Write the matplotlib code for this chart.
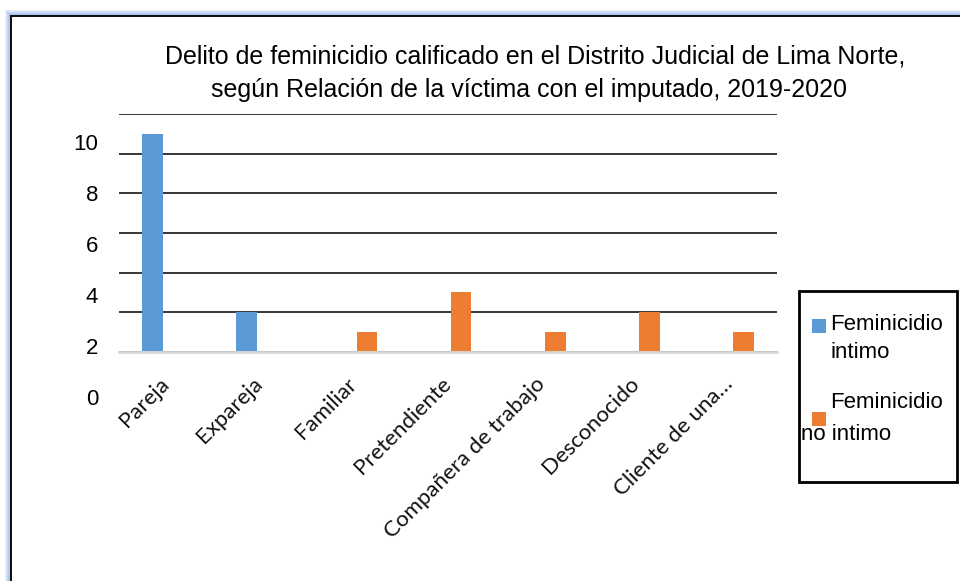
import matplotlib
matplotlib.use("Agg")
import matplotlib.pyplot as plt
from matplotlib.patches import Rectangle
import numpy as np

categories = ["Pareja", "Expareja", "Familiar", "Pretendiente",
              "Compañera de trabajo", "Desconocido", "Cliente de una…"]
intimo = [11, 2, 0, 0, 0, 0, 0]
no_intimo = [0, 0, 1, 3, 1, 2, 1]
series_names = ["Feminicidio\nintimo", "Feminicidio\nno intimo"]
ytick_values = [0, 2, 4, 6, 8, 10]
title_lines = ["Delito de feminicidio calificado en el Distrito Judicial de Lima Norte,",
               "según Relación de la víctima con el imputado, 2019-2020"]

BLUE = "#5b9bd5"
ORANGE = "#ed7d31"
W, H = 960, 581

fig = plt.figure(figsize=(W / 100, H / 100), dpi=100)
fig.patch.set_facecolor("white")

def fx(px):
    return px / W

def fy(py):
    return 1 - py / H

# outer frame: blue glow + dark line (top and left)
for i, a in enumerate([0.2, 0.35, 0.5, 0.65, 0.8]):
    fig.patches.append(Rectangle((fx(5 + i), 0), fx(1), fy(10 + i), transform=fig.transFigure,
                                 facecolor="#8fb4f0", alpha=a, edgecolor="none"))
    fig.patches.append(Rectangle((fx(5 + i), fy(11 + i)), 1, 1 / H, transform=fig.transFigure,
                                 facecolor="#8fb4f0", alpha=a, edgecolor="none"))
fig.patches.append(Rectangle((fx(10), 0), fx(2.4), fy(14.5), transform=fig.transFigure,
                             facecolor="#111111", edgecolor="none"))
fig.patches.append(Rectangle((fx(10), fy(17)), 1, 2.4 / H, transform=fig.transFigure,
                             facecolor="#111111", edgecolor="none"))

# main axes
left, right, top, bottom = 118.5, 777, 114.3, 351.7
ax = fig.add_axes([fx(left), fy(bottom), fx(right - left), (bottom - top) / H])
x = np.arange(len(categories))
bw = 0.22
off = 0.142
ax.bar(x - off, intimo, width=bw, color=BLUE, zorder=3)
ax.bar(x + off, no_intimo, width=bw, color=ORANGE, zorder=3)
ax.set_xlim(-0.5, len(categories) - 0.5)
ax.set_ylim(0, 12)
ax.set_yticks(np.arange(0, 13, 2))
ax.yaxis.grid(True, color="#262626", linewidth=1.3, zorder=0)
ax.set_axisbelow(True)
ax.tick_params(axis="y", length=0, labelleft=False)
for s in ["top", "right", "left"]:
    ax.spines[s].set_visible(False)
ax.spines["bottom"].set_color("#d9d9d9")
ax.spines["bottom"].set_linewidth(2)
ax.spines["bottom"].set_zorder(4)
ax.set_xticks(x)
ax.set_xticklabels(categories, rotation=45, ha="right", va="center",
                   rotation_mode="anchor", fontsize=16, family="Lato", color="#111111")
ax.tick_params(axis="x", length=0, pad=21)
ax.set_facecolor("none")

# y tick labels (drawn on their own axis, as in the reference they are offset)
lab_top, lab_bot = 142, 397
ax2 = fig.add_axes([fx(left), fy(lab_bot), fx(right - left), (lab_bot - lab_top) / H])
ax2.set_ylim(0, 10)
ax2.set_yticks(ytick_values)
ax2.set_yticklabels([str(v) for v in ytick_values], fontsize=16, family="Liberation Sans")
ax2.tick_params(axis="y", length=0, pad=14.5)
ax2.set_xticks([])
for s in ax2.spines.values():
    s.set_visible(False)
ax2.patch.set_visible(False)
ax2.set_zorder(-1)

# title
fig.text(fx(535.5), fy(63.5), title_lines[0], ha="center", va="baseline",
         fontsize=18, family="Liberation Sans", color="black")
fig.text(fx(529), fy(97), title_lines[1], ha="center", va="baseline",
         fontsize=18, family="Liberation Sans", color="black")

# legend (manual box, as laid out in the reference)
fig.patches.append(Rectangle((fx(799), fy(482)), fx(158), (482 - 291) / H,
                             transform=fig.transFigure, facecolor="white",
                             edgecolor="black", linewidth=2))
fig.patches.append(Rectangle((fx(812), fy(333)), fx(14), 14 / H, transform=fig.transFigure,
                             facecolor=BLUE, edgecolor="none"))
fig.text(fx(830), fy(324), series_names[0].split("\n")[0], ha="left", va="center",
         fontsize=16, family="Liberation Sans")
fig.text(fx(830), fy(353), series_names[0].split("\n")[1], ha="left", va="center",
         fontsize=16, family="Liberation Sans")
fig.patches.append(Rectangle((fx(812), fy(426)), fx(14), 14 / H, transform=fig.transFigure,
                             facecolor=ORANGE, edgecolor="none"))
fig.text(fx(830), fy(402), series_names[1].split("\n")[0], ha="left", va="center",
         fontsize=16, family="Liberation Sans")
fig.text(fx(801), fy(434), series_names[1].split("\n")[1], ha="left", va="center",
         fontsize=16, family="Liberation Sans")

fig.savefig("out.png", dpi=100)
